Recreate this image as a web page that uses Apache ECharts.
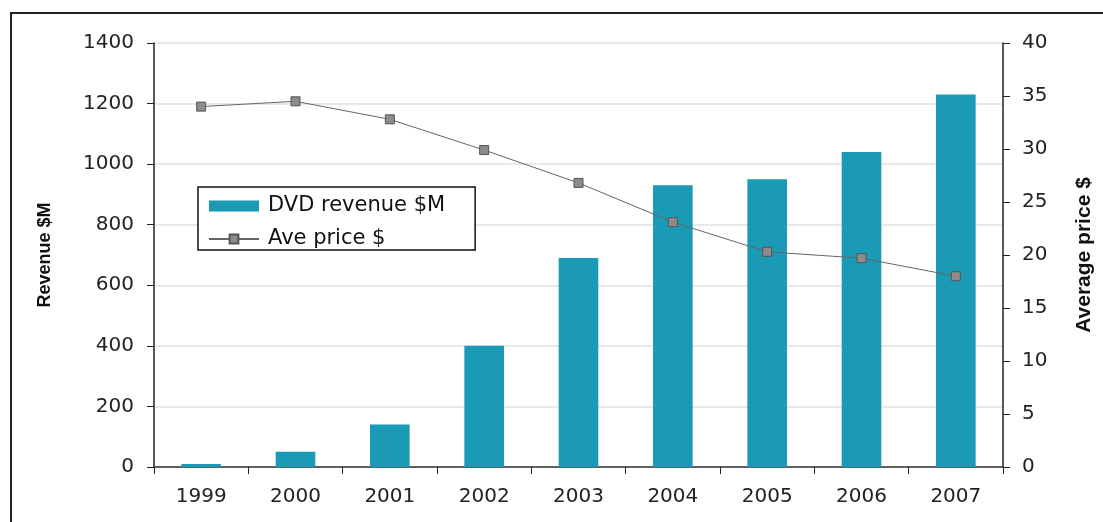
<!DOCTYPE html>
<html>
<head>
<meta charset="utf-8">
<script src="https://cdn.jsdelivr.net/npm/echarts@6/dist/echarts.min.js"></script>
<style>
  html, body { margin: 0; padding: 0; background: #fff; }
  #chart { width: 1103px; height: 522px; }
</style>
</head>
<body>
<div id="chart"></div>
<script>
// DVD revenue and average price per year
const years = ['1999', '2000', '2001', '2002', '2003', '2004', '2005', '2006', '2007'];
const revenue = [10, 50, 140, 400, 690, 930, 950, 1040, 1230];
const avgPrice = [34.0, 34.5, 32.8, 29.9, 26.8, 23.1, 20.3, 19.7, 18.0];
const revenueTicks = [0, 200, 400, 600, 800, 1000, 1200, 1400];
const priceTicks = [0, 5, 10, 15, 20, 25, 30, 35, 40];

const tickFont = { fontFamily: 'DejaVu Sans', fontSize: 20, color: '#222' };

const chart = echarts.init(document.getElementById('chart'), null, { renderer: 'canvas' });

chart.setOption({
  animation: false,
  backgroundColor: '#fff',
  graphic: [{
    type: 'rect',
    shape: { x: 11, y: 13, width: 1120, height: 540 },
    style: { fill: 'none', stroke: '#222', lineWidth: 2 },
    silent: true
  }],
  grid: { left: 154, right: 100, top: 43, bottom: 55 },
  legend: {
    left: 198, top: 187,
    orient: 'vertical',
    padding: [8, 30, 0, 10],
    itemGap: 11,
    itemWidth: 50, itemHeight: 11,
    borderColor: '#111', borderWidth: 1.5,
    backgroundColor: '#fff',
    textStyle: { fontFamily: 'DejaVu Sans', fontSize: 21, lineHeight: 22, color: '#111', padding: [0, 0, 0, 4] },
    data: [
      { name: 'DVD revenue $M', icon: 'rect' },
      { name: 'Ave price $' }
    ]
  },
  xAxis: {
    type: 'category',
    data: years,
    axisLine: { lineStyle: { color: '#333', width: 1.5 } },
    axisTick: { show: true, length: 7, lineStyle: { color: '#222' } },
    axisLabel: Object.assign({ margin: 20 }, tickFont)
  },
  yAxis: [{
    type: 'value',
    min: revenueTicks[0], max: revenueTicks[revenueTicks.length - 1], interval: 200,
    name: 'Revenue $M', nameLocation: 'middle', nameRotate: 90, nameGap: 100,
    nameTextStyle: { fontFamily: 'Liberation Sans', fontSize: 18, fontWeight: 'bold', color: '#111' },
    axisLine: { show: true, lineStyle: { color: '#222', width: 1.5 } },
    axisTick: { show: true, length: 7, lineStyle: { color: '#222' } },
    axisLabel: Object.assign({ margin: 20, formatter: v => String(v) }, tickFont),
    splitLine: { show: true, lineStyle: { color: '#e2e2e2', width: 1.5 } }
  }, {
    type: 'value',
    position: 'right',
    min: priceTicks[0], max: priceTicks[priceTicks.length - 1], interval: 5,
    name: 'Average price $', nameLocation: 'middle', nameRotate: 90, nameGap: 71,
    nameTextStyle: { fontFamily: 'Liberation Sans', fontSize: 21, fontWeight: 'bold', color: '#111' },
    axisLine: { show: true, lineStyle: { color: '#222', width: 1.5 } },
    axisTick: { show: true, length: 7, lineStyle: { color: '#222' } },
    axisLabel: Object.assign({ margin: 19, formatter: v => String(v) }, tickFont),
    splitLine: { show: false }
  }],
  series: [{
    name: 'DVD revenue $M',
    type: 'bar',
    yAxisIndex: 0,
    data: revenue,
    barWidth: '42%',
    itemStyle: { color: '#1b9ab6' }
  }, {
    name: 'Ave price $',
    type: 'line',
    yAxisIndex: 1,
    data: avgPrice,
    symbol: 'rect',
    symbolSize: 9,
    lineStyle: { color: '#666', width: 1 },
    itemStyle: { color: '#8c8c8c', borderColor: '#555', borderWidth: 1 }
  }]
});
</script>
</body>
</html>
